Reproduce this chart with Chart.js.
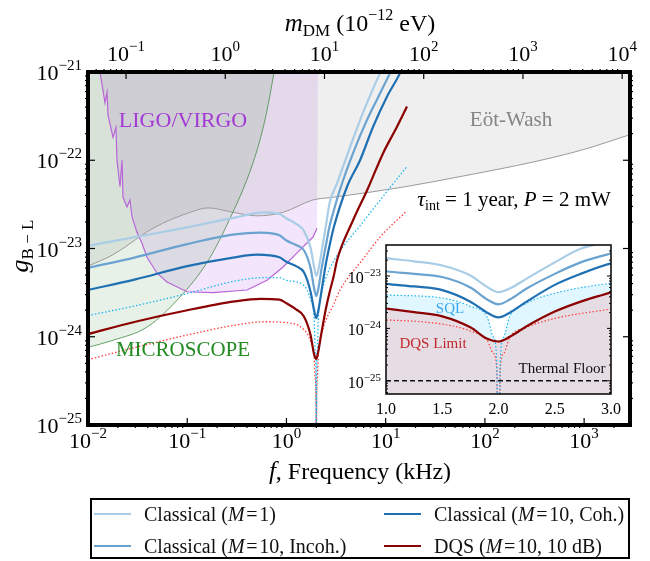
<!DOCTYPE html>
<html>
<head>
<meta charset="utf-8">
<script src="https://cdn.jsdelivr.net/npm/chart.js@4.4.1/dist/chart.umd.min.js"></script>
<style>
	html, body { margin: 0; padding: 0; background: #fff; }
	#wrap { position: relative; width: 650px; height: 561px; overflow: hidden; }
	#wrap canvas { position: absolute; left: 0; top: 0; }
	#legend { position: absolute; left: 90px; top: 498px; width: 536px; height: 57px; border: 2px solid #000;
		font-family: 'Liberation Serif', serif; font-size: 20px; color: #111; }
	#legend .sw { position: absolute; height: 2px; width: 37px; }
	#legend .tx { position: absolute; white-space: nowrap; line-height: 22px; }
</style>
</head>
<body>
<div id="wrap">
	<canvas id="canMain" width="650" height="561" style="width:650px;height:561px"></canvas>
	<canvas id="canInset" width="650" height="561" style="width:650px;height:561px"></canvas>
	<div id="legend"></div>
</div>
<script>
'use strict'

//////////////////////////////////////////////////////////////////////
// data: f in kHz, coupling as log10(g_B-L)

// Classical (M=1)
const fM1 = [0.01, 0.03, 0.1, 0.3, 0.6, 0.85, 1.0, 1.25, 1.5, 1.75, 1.9, 2.0, 2.1, 2.25, 2.5, 2.73, 3.24, 4.38, 5.91, 8.79, 9.5];
const lgM1 = [-22.97, -22.87, -22.76, -22.65, -22.59, -22.61, -22.66, -22.72, -22.80, -22.99, -23.21, -23.31, -23.24, -23.05, -22.74, -22.48, -22.26, -21.85, -21.46, -21.01, -20.93];

// Classical (M=10, Incoh.)
const fIncoh = [0.01, 0.03, 0.1, 0.3, 0.55, 0.85, 1.0, 1.25, 1.5, 1.75, 1.9, 2.0, 2.1, 2.25, 2.5, 2.73, 3.0, 3.47, 4.69, 6.5, 8.79, 11.1, 12];
const lgIncoh = [-23.22, -23.10, -22.95, -22.84, -22.82, -22.85, -22.91, -22.96, -23.02, -23.22, -23.45, -23.54, -23.45, -23.24, -22.96, -22.74, -22.57, -22.33, -21.92, -21.54, -21.24, -21.01, -20.93];

// Classical (M=10, Coh.)
const fCoh = [0.01, 0.03, 0.1, 0.3, 0.5, 0.85, 1.0, 1.25, 1.5, 1.75, 1.9, 2.0, 2.1, 2.25, 2.5, 2.73, 3.0, 4.08, 5.52, 7.47, 10.3, 14.0, 15];
const lgCoh = [-23.47, -23.35, -23.20, -23.10, -23.07, -23.10, -23.15, -23.20, -23.27, -23.49, -23.70, -23.79, -23.70, -23.49, -23.17, -22.96, -22.76, -22.30, -22.00, -21.62, -21.28, -21.01, -20.93];

// DQS (M=10, 10 dB)
const fDqs = [0.01, 0.03, 0.1, 0.3, 0.55, 0.85, 1.0, 1.25, 1.5, 1.75, 1.9, 2.0, 2.1, 2.25, 2.5, 2.73, 3.0, 3.24, 4.69, 6.5, 9.42, 13.0, 16.4];
const lgDqs = [-23.97, -23.83, -23.70, -23.60, -23.57, -23.58, -23.62, -23.69, -23.77, -23.98, -24.20, -24.25, -24.16, -23.96, -23.68, -23.49, -23.31, -23.13, -22.68, -22.34, -21.92, -21.62, -21.39];

// SQL (dotted), goes to zero at 2 kHz
const fSql = [0.01, 0.03, 0.1, 0.3, 0.6, 0.85, 1.0, 1.5, 1.75, 1.9, 1.955, 1.985, 2.0, 2.015, 2.045, 2.1, 2.25, 2.5, 3.0, 5.91, 16.1];
const lgSql = [-23.76, -23.65, -23.51, -23.37, -23.33, -23.33, -23.36, -23.42, -23.58, -23.79, -24.17, -24.67, -30, -24.67, -24.17, -23.77, -23.52, -23.33, -23.14, -22.70, -22.08];

// DQS limit (dotted)
const fDqsLim = [0.01, 0.03, 0.1, 0.3, 0.6, 1.0, 1.5, 1.75, 1.9, 1.955, 1.985, 2.0, 2.015, 2.045, 2.1, 2.25, 2.5, 3.0, 3.47, 5.91, 8.79, 16.1];
const lgDqsLim = [-24.26, -24.12, -23.98, -23.87, -23.83, -23.84, -23.92, -24.05, -24.23, -24.48, -24.79, -30, -24.79, -24.48, -24.17, -23.98, -23.81, -23.63, -23.47, -23.12, -22.87, -22.58];

// excluded regions
const fMicro = [0.01, 0.0179, 0.0394, 0.0845, 0.158, 0.252, 0.46, 0.608, 0.75, 0.8];
const lgMicro = [-24.12, -24.04, -23.89, -23.55, -23.16, -22.73, -22.03, -21.54, -21.0, -20.8];

const fEot = [0.01, 0.0179, 0.0452, 0.107, 0.162, 0.290, 0.506, 0.925, 1.85, 2.95, 14.0, 66.2, 306, 977, 2900];
const lgEot = [-23.20, -23.07, -22.77, -22.59, -22.54, -22.59, -22.63, -22.59, -22.45, -22.42, -22.31, -22.17, -22.02, -21.88, -21.71];

const fLigo = [0.01321, 0.01483, 0.01555, 0.01592, 0.01786, 0.01914, 0.01959, 0.02103, 0.02203, 0.02254, 0.02472, 0.02649, 0.02778,
	0.03118, 0.03499, 0.03935, 0.04966, 0.06252, 0.09952, 0.1819, 0.4009, 0.6368, 0.9247, 1.279, 1.854, 2.034];
const lgLigo = [-21.00, -21.35, -21.23, -21.49, -21.74, -21.63, -22.00, -22.30, -22.00, -22.42, -22.53, -22.45, -22.64,
	-22.82, -22.94, -23.10, -23.28, -23.38, -23.49, -23.50, -23.47, -23.36, -23.21, -23.05, -22.87, -22.77];
const fLigoEdge = 2.08; // right edge of the LIGO/VIRGO band

const thermalFloor = 1e-25;

// axes
const fMin = 0.01, fMax = 2900;
const gMin = 1e-25, gMax = 1e-21;
const massPerKHz = 4.136; // m_DM in 1e-12 eV for f = 1 kHz
const bottomExps = [-2, -1, 0, 1, 2, 3];
const leftExps = [-25, -24, -23, -22, -21];
const topExps = [-1, 0, 1, 2, 3, 4];
const insetFTicks = [1.0, 1.5, 2.0, 2.5, 3.0];
const insetExps = [-25, -24, -23];
const insetGMin = 5.6e-26, insetGMax = 3.9e-23;

const legendItems = [
	{ html: 'Classical (<i>M</i>&#8202;=&#8202;1)', color: '#a9cde6', col: 0, row: 0 },
	{ html: 'Classical (<i>M</i>&#8202;=&#8202;10, Coh.)', color: '#1f70b3', col: 1, row: 0 },
	{ html: 'Classical (<i>M</i>&#8202;=&#8202;10, Incoh.)', color: '#6aa3d0', col: 0, row: 1 },
	{ html: 'DQS (<i>M</i>&#8202;=&#8202;10, 10 dB)', color: '#8b0000', col: 1, row: 1 }
];


//////////////////////////////////////////////////////////////////////
// helpers
const FONT = "'Liberation Serif', 'DejaVu Serif', serif";
const fontOf = (size, italic) => (italic ? 'italic ' : '') + size + 'px ' + FONT;

let pts = function (fs, lgs) {
	return fs.map((f, i) => ({ x: f, y: Math.pow(10, lgs[i]) }));
};

let curve = function (data, color, width, extra) {
	return Object.assign({
		data: data, borderColor: color, borderWidth: width, pointRadius: 0, fill: false,
		cubicInterpolationMode: 'monotone', xAxisID: 'x', yAxisID: 'y'
	}, extra || {});
};

// rich text: list of segments {t, size, it, dy}
let richText = function (ctx, segs, x, y, align, color) {
	let w = 0;
	segs.forEach((s) => { ctx.font = fontOf(s.size, s.it); s.w = ctx.measureText(s.t).width; w += s.w; });
	let cx = align === 'center' ? x - w / 2 : (align === 'right' ? x - w : x);
	ctx.textAlign = 'left';
	ctx.textBaseline = 'alphabetic';
	ctx.fillStyle = color || '#000';
	segs.forEach((s) => {
		ctx.font = fontOf(s.size, s.it);
		ctx.fillText(s.t, cx, y + (s.dy || 0));
		cx += s.w;
	});
};

// "10^e" label
let sciLabel = function (ctx, e, x, y, size, align) {
	const sup = String(e).replace('-', '\u2212');
	richText(ctx, [{ t: '10', size: size }, { t: sup, size: Math.round(size * 0.68), dy: -size * 0.45 }], x, y, align);
};

// log tick positions, 1..9 x 10^k
let logTicks = function (min, max) {
	const out = [];
	for (let e = Math.floor(Math.log10(min)) - 1; e <= Math.ceil(Math.log10(max)); e++) {
		for (let m = 1; m < 10; m++) {
			const v = m * Math.pow(10, e);
			if (v >= min * 0.9999 && v <= max * 1.0001) { out.push({ v: v, major: m === 1 }); }
		}
	}
	return out;
};

let tickLine = function (ctx, x1, y1, x2, y2) {
	ctx.beginPath(); ctx.moveTo(x1, y1); ctx.lineTo(x2, y2); ctx.stroke();
};


//////////////////////////////////////////////////////////////////////
// main chart decorations
const mainDecor = {
	id: 'mainDecor',
	afterDraw(chart) {
		const { ctx, chartArea: a, scales } = chart;
		const sx = scales.x, sy = scales.y, st = scales.xTop;
		ctx.save();
		ctx.strokeStyle = '#000';
		ctx.lineWidth = 1.2;

		// bottom ticks (major inward, minor outward)
		logTicks(fMin, fMax).forEach((t) => {
			const px = sx.getPixelForValue(t.v);
			if (t.major) { tickLine(ctx, px, a.bottom, px, a.bottom - 7); }
			else { tickLine(ctx, px, a.bottom, px, a.bottom + 3); }
		});
		// top ticks (mass)
		logTicks(fMin * massPerKHz, fMax * massPerKHz).forEach((t) => {
			const px = st.getPixelForValue(t.v);
			if (t.major) { tickLine(ctx, px, a.top, px, a.top + 7); }
			else { tickLine(ctx, px, a.top, px, a.top - 3); }
		});
		// left / right ticks
		logTicks(gMin, gMax).forEach((t) => {
			const py = sy.getPixelForValue(t.v);
			if (t.major) {
				tickLine(ctx, a.left, py, a.left + 7, py);
				tickLine(ctx, a.right, py, a.right - 7, py);
			} else {
				tickLine(ctx, a.left, py, a.left - 3, py);
				tickLine(ctx, a.right, py, a.right + 3, py);
			}
		});

		// frame
		ctx.lineWidth = 4;
		ctx.strokeRect(a.left, a.top, a.right - a.left, a.bottom - a.top);

		// tick labels
		bottomExps.forEach((e) => sciLabel(ctx, e, sx.getPixelForValue(Math.pow(10, e)), 448, 22, 'center'));
		leftExps.forEach((e) => sciLabel(ctx, e, 82, sy.getPixelForValue(Math.pow(10, e)) + 8, 22, 'right'));
		topExps.forEach((e) => sciLabel(ctx, e, st.getPixelForValue(Math.pow(10, e)), 61, 22, 'center'));

		// axis titles
		richText(ctx, [{ t: 'm', size: 25, it: true }, { t: 'DM', size: 17, dy: 5 }, { t: ' (10', size: 24 },
			{ t: '\u221212', size: 16, dy: -11 }, { t: ' eV)', size: 24 }], 360, 31, 'center');
		richText(ctx, [{ t: 'f', size: 25, it: true }, { t: ', Frequency (kHz)', size: 24 }], 360, 479, 'center');
		ctx.save();
		ctx.translate(28, 246);
		ctx.rotate(-Math.PI / 2);
		richText(ctx, [{ t: 'g', size: 26, it: true }, { t: 'B \u2212 L', size: 17, dy: 5 }], 0, 0, 'center');
		ctx.restore();

		// region labels
		richText(ctx, [{ t: 'LIGO/VIRGO', size: 22 }], 183, 127, 'center', '#a23ad3');
		richText(ctx, [{ t: 'MICROSCOPE', size: 21 }], 183, 356, 'center', '#228b22');
		richText(ctx, [{ t: 'E\u00f6t-Wash', size: 21 }], 511, 126, 'center', '#858585');
		richText(ctx, [{ t: '\u03c4', size: 22, it: true }, { t: 'int', size: 14, dy: 4 }, { t: ' = 1 year, ', size: 21 },
			{ t: 'P', size: 21, it: true }, { t: ' = 2 mW', size: 21 }], 514, 206, 'center');
		ctx.restore();
	}
};

const ctxMain = document.getElementById('canMain').getContext('2d');
const myChartMain = new Chart(ctxMain, {
	type: 'line',
	data: {
		datasets: [
			curve(pts(fDqs, lgDqs), '#8b0000', 2.2),
			curve(pts(fCoh, lgCoh), '#1f70b3', 2.2),
			curve(pts(fIncoh, lgIncoh), '#6aa3d0', 2.2),
			curve(pts(fM1, lgM1), '#a9cde6', 2.2),
			curve(pts(fSql, lgSql), '#1cb6f2', 1.3, { borderDash: [1.5, 2] }),
			curve(pts(fDqsLim, lgDqsLim), '#ff3b3b', 1.3, { borderDash: [1.5, 2] }),
			curve(pts(fLigo, lgLigo), '#b865d8', 1.2, { cubicInterpolationMode: 'default', tension: 0 }),
			curve(pts(fMicro, lgMicro), 'rgba(70,140,70,0.8)', 1, { fill: 'end', backgroundColor: 'rgba(60,140,60,0.12)' }),
			curve(pts(fEot, lgEot), '#9a9a9a', 1, { fill: 'end', backgroundColor: 'rgba(128,128,128,0.13)' }),
			curve(pts(fLigo.concat([fLigoEdge]), lgLigo.concat([-21.0])), 'rgba(0,0,0,0)', 0,
				{ cubicInterpolationMode: 'default', tension: 0, fill: 'end', backgroundColor: 'rgba(175,80,225,0.15)' })
		]
	},
	options: {
		responsive: false,
		animation: false,
		layout: { padding: { left: 88, top: 72, right: 20, bottom: 136 } },
		plugins: { legend: { display: false }, tooltip: { enabled: false }, filler: { drawTime: 'beforeDatasetsDraw' } },
		scales: {
			x: { type: 'logarithmic', min: fMin, max: fMax, display: false },
			xTop: { type: 'logarithmic', position: 'top', min: fMin * massPerKHz, max: fMax * massPerKHz, display: false },
			y: { type: 'logarithmic', min: gMin, max: gMax, display: false }
		}
	},
	plugins: [mainDecor]
});


//////////////////////////////////////////////////////////////////////
// inset (zoom around 2 kHz)
const insetDecor = {
	id: 'insetDecor',
	beforeDraw(chart) {
		const { ctx, chartArea: a } = chart;
		ctx.save();
		ctx.fillStyle = '#fff';
		ctx.fillRect(a.left, a.top, a.right - a.left, a.bottom - a.top);
		ctx.restore();
	},
	afterDraw(chart) {
		const { ctx, chartArea: a, scales } = chart;
		const sx = scales.x, sy = scales.y;
		ctx.save();
		ctx.strokeStyle = '#000';
		ctx.lineWidth = 1;
		logTicks(insetGMin, insetGMax).forEach((t) => {
			const py = sy.getPixelForValue(t.v);
			const len = t.major ? 4 : 2;
			tickLine(ctx, a.left, py, a.left + len, py);
			tickLine(ctx, a.right, py, a.right - len, py);
		});
		ctx.lineWidth = 1.5;
		ctx.strokeRect(a.left, a.top, a.right - a.left, a.bottom - a.top);

		insetFTicks.forEach((v) => richText(ctx, [{ t: v.toFixed(1), size: 16 }], sx.getPixelForValue(v), 414, 'center'));
		insetExps.forEach((e) => sciLabel(ctx, e, 381, sy.getPixelForValue(Math.pow(10, e)) + 7, 16, 'right'));

		richText(ctx, [{ t: 'SQL', size: 15 }], 450, 313, 'center', '#3aa6f0');
		richText(ctx, [{ t: 'DQS Limit', size: 15 }], 433, 348, 'center', '#c0282c');
		richText(ctx, [{ t: 'Thermal Floor', size: 15 }], 562, 373, 'center', '#111');
		ctx.restore();
	}
};

const ctxInset = document.getElementById('canInset').getContext('2d');
const myChartInset = new Chart(ctxInset, {
	type: 'line',
	data: {
		datasets: [
			curve(pts(fM1, lgM1), '#a9cde6', 2.2),
			curve(pts(fIncoh, lgIncoh), '#6aa3d0', 2.2),
			curve(pts(fCoh, lgCoh), '#1f70b3', 2.2),
			curve(pts(fDqs, lgDqs), '#8b0000', 2.2, { fill: 'start', backgroundColor: '#e6dde4' }),
			curve(pts(fSql, lgSql), '#1cb6f2', 1.2, { borderDash: [1.5, 2], fill: { target: 3, above: 'rgba(0,191,255,0.12)', below: 'rgba(0,0,0,0)' } }),
			curve(pts(fDqsLim, lgDqsLim), '#ff3b3b', 1.2, { borderDash: [1.5, 2] }),
			curve([{ x: 1, y: thermalFloor }, { x: 3, y: thermalFloor }], '#111', 1.4, { borderDash: [5, 3] })
		]
	},
	options: {
		responsive: false,
		animation: false,
		layout: { padding: { left: 386, top: 245, right: 39, bottom: 167 } },
		plugins: { legend: { display: false }, tooltip: { enabled: false }, filler: { drawTime: 'beforeDatasetsDraw' } },
		scales: {
			x: { type: 'linear', min: 1, max: 3, display: false },
			y: { type: 'logarithmic', min: insetGMin, max: insetGMax, display: false }
		}
	},
	plugins: [insetDecor]
});


//////////////////////////////////////////////////////////////////////
// legend (two columns, below the plot)
const divLegend = document.getElementById('legend');
legendItems.forEach((it) => {
	const left = it.col === 0 ? 2 : 292;
	const cy = it.row === 0 ? 14 : 46;
	const sw = document.createElement('div');
	sw.className = 'sw';
	sw.style.left = left + 'px';
	sw.style.top = (cy - 1) + 'px';
	sw.style.background = it.color;
	divLegend.appendChild(sw);
	const tx = document.createElement('div');
	tx.className = 'tx';
	tx.style.left = (left + 50) + 'px';
	tx.style.top = (cy - 11) + 'px';
	tx.innerHTML = it.html;
	divLegend.appendChild(tx);
});
</script>
</body>
</html>
